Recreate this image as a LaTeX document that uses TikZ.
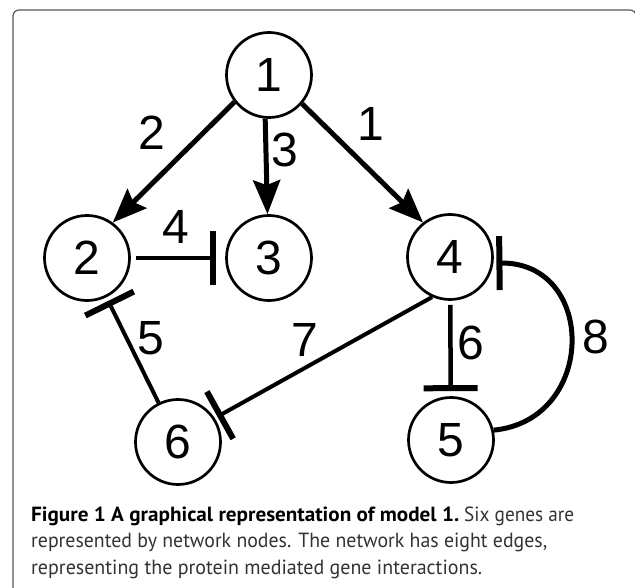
\documentclass[tikz,border=0pt]{standalone}
\usepackage{fontspec}
\setmainfont{Liberation Sans}
\newfontfamily\capfont{PT Sans}
\usetikzlibrary{arrows.meta}
\begin{document}
\begin{tikzpicture}[x=1pt,y=-1pt,
  gene/.style={draw, circle, line width=2.7pt, minimum size=85pt, inner sep=0pt, font=\fontsize{48}{48}\selectfont},
  elab/.style={inner sep=0pt, font=\fontsize{48}{48}\selectfont},
  act/.style={line width=5pt, -{Stealth[length=34pt,width=27pt,inset=5pt]}},
  inh/.style={line width=4.5pt, -{Bar[width=54pt,line width=6pt]}},
  capline/.style={anchor=base west, inner sep=0pt, text=black!80, font=\capfont\fontsize{20.5}{26}\selectfont},
  frame/.style={draw=black!65, line width=1.2pt, rounded corners=6pt},
]
\useasboundingbox (0,0) rectangle (635,588);
\fill[white] (0,0) rectangle (635,588);
\draw[frame] (13,10) rectangle (636,620);

\node[gene] (n1) at (269,75) {1};
\node[gene] (n2) at (87,258) {2};
\node[gene] (n3) at (269,258) {3};
\node[gene] (n4) at (450,257) {4};
\node[gene] (n5) at (451,440) {5};
\node[gene] (n6) at (178,442) {6};

\draw[act] (n1.218) -- (n2.54);
\draw[act] (n1.265) -- (n3.92);
\draw[act] (n1.-41) -- (n4.128);
\draw[inh, shorten <=5pt, shorten >=9pt] (n2) -- (n3);
\draw[inh, shorten <=4pt, shorten >=5pt] (n4) -- (n5);
\draw[inh, line width=4pt, shorten >=4pt] (n6) -- (n2);
\draw[inh, line width=4pt, shorten >=3pt] (n4.246) -- (n6.33);
\draw[inh, line width=5pt, shorten >=3pt] (n5.13) .. controls (597,420) and (597,262) .. (n4.-8);

\node[elab] (l2) at (152,133) {2};
\node[elab] (l3) at (285,150) {3};
\node[elab] (l1) at (371,124) {1};
\node[elab] (l4) at (176,227) {4};
\node[elab] (l5) at (151,338) {5};
\node[elab] (l7) at (305,340) {7};
\node[elab] (l6) at (471,343) {6};
\node[elab] (l8) at (596,337) {8};

\node[capline] (c1) at (31,521) {\textcolor{black}{\resizebox{428pt}{\height}{\bfseries Figure 1 A graphical representation of model 1.}}\hspace{5pt}\resizebox{110pt}{\height}{Six genes are}};
\node[capline] (c2) at (31,547.5) {\resizebox{516pt}{\height}{represented by network nodes. The network has eight edges,}};
\node[capline] (c3) at (31,574) {\resizebox{451pt}{\height}{representing the protein mediated gene interactions.}};
\end{tikzpicture}
\end{document}
